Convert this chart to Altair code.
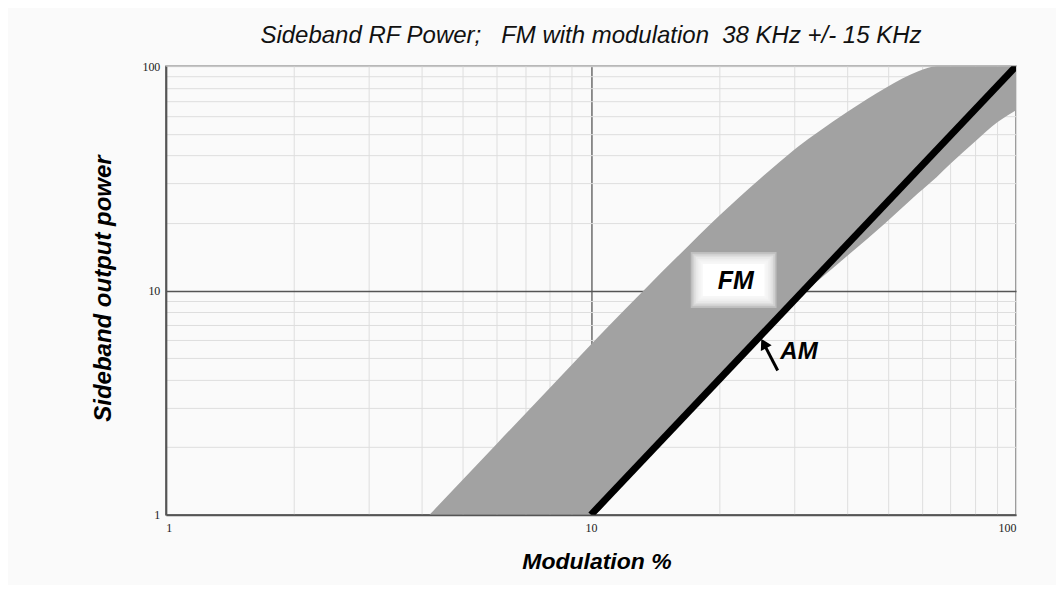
import altair as alt
import pandas as pd

# FM band (upper and lower edge)
band_x = [4.17, 6, 8, 10, 12, 13.5, 16, 20, 22.3, 25, 27.6, 30.8, 34.3, 40.3, 49.3, 58.9, 65, 70.4, 80, 90.7, 100]
band_hi = [1, 2.07, 3.68, 5.75, 8.2, 10.3, 14.2, 21.5, 26.0, 31.5, 37, 44.0, 51, 63, 80, 95, 100, 100, 100, 100, 100]
band_lo = [1, 1, 1, 1, 1.44, 1.82, 2.56, 4, 4.97, 6.25, 7.6, 9.3, 11.1, 14.4, 20, 27.2, 32, 37, 46.1, 56.5, 63.7]

# AM line
am_x = [10, 100]
am_y = [1, 100]

# grid / tick values
tick_vals = [1, 2, 3, 4, 5, 6, 7, 8, 9, 10, 20, 30, 40, 50, 60, 70, 80, 90, 100]

# annotations
fm_label = {"x": 21.9, "y": 11.0, "text": "FM"}
fm_box_x1 = [17.17, 17.33, 17.49, 17.65, 17.81, 17.98, 18.14, 18.32]
fm_box_x2 = [27.33, 27.08, 26.83, 26.59, 26.34, 26.10, 25.86, 25.61]
fm_box_y1 = [8.357, 8.504, 8.654, 8.806, 8.961, 9.119, 9.279, 9.452]
fm_box_y2 = [14.84, 14.58, 14.33, 14.09, 13.84, 13.60, 13.37, 13.13]
fm_box_op = [0.3, 0.3, 0.3, 0.3, 0.3, 0.3, 0.3, 1.0]
am_label = {"x": 27.9, "y": 5.32, "text": "AM"}
arrow_tail = (27.5, 4.4)
arrow_head = (25.5, 5.8)

band_df = pd.DataFrame({"x": band_x, "hi": band_hi, "lo": band_lo})
am_df = pd.DataFrame({"x": am_x, "y": am_y})
box_df = pd.DataFrame({"x": fm_box_x1, "x2": fm_box_x2, "y": fm_box_y1, "y2": fm_box_y2, "op": fm_box_op})
fm_df = pd.DataFrame([fm_label])
am_lab_df = pd.DataFrame([am_label])
arrow_df = pd.DataFrame({"x": [arrow_tail[0]], "y": [arrow_tail[1]], "x2": [arrow_head[0]], "y2": [arrow_head[1]]})
head_df = pd.DataFrame({"x": [arrow_head[0]], "y": [arrow_head[1]]})

xscale = alt.Scale(type="log", domain=[1, 100], nice=False)
yscale = alt.Scale(type="log", domain=[1, 100], nice=False)

grid_color = {"condition": {"test": "datum.value === 10", "value": "#555555"}, "value": "#dedede"}
grid_width = {"condition": {"test": "datum.value === 10", "value": 1.3}, "value": 1}
label_expr = "indexof([1, 10, 100], datum.value) >= 0 ? format(datum.value, 'd') : ''"

xaxis = alt.Axis(values=tick_vals, grid=True, ticks=False, domain=True, domainColor="#555555", domainWidth=2,
                 labelExpr=label_expr, labelFont="Liberation Serif", labelFontSize=12, labelColor="#222222",
                 labelPadding=8, labelFlush=True, labelAngle=0,
                 title="Modulation %", titleFont="Liberation Sans", titleFontSize=23, titleFontStyle="italic",
                 titleFontWeight="bold", titleColor="#000000", titleX=431, titleY=47, titleBaseline="middle",
                 gridColor=grid_color, gridWidth=grid_width)
yaxis = alt.Axis(values=tick_vals, grid=True, ticks=False, domain=True, domainColor="#555555", domainWidth=2,
                 labelExpr=label_expr, labelFont="Liberation Serif", labelFontSize=12, labelColor="#222222",
                 labelPadding=6,
                 title="Sideband output power", titleFont="Liberation Sans", titleFontSize=24, titleFontStyle="italic",
                 titleFontWeight="bold", titleColor="#000000", titleX=-62, titleY=222, titleBaseline="middle",
                 titleAngle=270,
                 gridColor=grid_color, gridWidth=grid_width)


def X(field):
    return alt.X(field, type="quantitative", scale=xscale, axis=xaxis)


def Y(field):
    return alt.Y(field, type="quantitative", scale=yscale, axis=yaxis)


band = alt.Chart(band_df).mark_area(color="#a2a2a2", opacity=1, clip=True, interpolate="monotone").encode(
    x=X("x"), y=Y("hi"), y2="lo"
)

am_line = alt.Chart(am_df).mark_line(color="#000000", strokeWidth=7, clip=True).encode(
    x=X("x"), y=Y("y")
)

box = alt.Chart(box_df).mark_rect(color="#ffffff").encode(
    x=X("x"), x2="x2", y=Y("y"), y2="y2",
    opacity=alt.Opacity("op:Q", scale=None, legend=None)
)

fm_text = alt.Chart(fm_df).mark_text(font="Liberation Sans", fontSize=25, fontStyle="italic",
                                     fontWeight="bold", color="#000000", baseline="middle").encode(
    x=X("x"), y=Y("y"), text="text:N"
)

am_text = alt.Chart(am_lab_df).mark_text(font="Liberation Sans", fontSize=24, fontStyle="italic",
                                         fontWeight="bold", color="#000000", align="left",
                                         baseline="middle").encode(
    x=X("x"), y=Y("y"), text="text:N"
)

arrow = alt.Chart(arrow_df).mark_rule(color="#000000", strokeWidth=3).encode(
    x=X("x"), y=Y("y"), x2="x2", y2="y2"
)

head = alt.Chart(head_df).mark_point(shape="triangle-up", filled=True, color="#000000", size=150,
                                     angle=332, opacity=1).encode(
    x=X("x"), y=Y("y")
)

title_text = "Sideband RF Power;\u00a0\u00a0\u00a0FM with modulation\u00a0\u00a038 KHz +/- 15 KHz"

chart = alt.layer(band, am_line, box, fm_text, arrow, head, am_text).properties(
    width=851, height=449,
    autosize="none",
    padding={"left": 158, "top": 58, "right": 40, "bottom": 70},
    background="#fafafa",
    title=alt.TitleParams(title_text, font="Liberation Sans", fontSize=24, fontStyle="italic",
                          fontWeight="normal", color="#111111", offset=12, anchor="middle"),
).configure_view(stroke="#777777", strokeWidth=1.5)

chart.save("out.html", embed_options={"renderer": "svg", "actions": False})
